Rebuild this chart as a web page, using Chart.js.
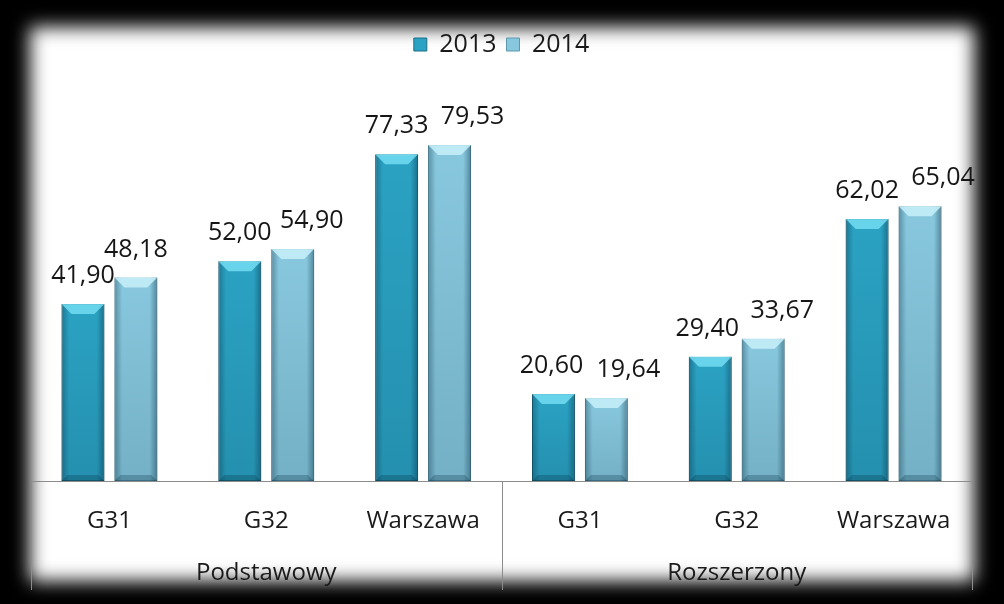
<!DOCTYPE html>
<html>
<head>
<meta charset="utf-8">
<script src="https://cdn.jsdelivr.net/npm/chart.js@4"></script>
<style>
    html, body { margin: 0; padding: 0; background: #000; }
    #wrap { position: relative; width: 1004px; height: 604px; overflow: hidden; background: #000; }
    #panel { position: absolute; left: 30px; top: 27px; width: 944px; height: 554px; background: #fff; filter: blur(9px); }
    canvas { position: absolute; left: 0; top: 0; }
</style>
</head>
<body>
<div id="wrap">
    <div id="panel"></div>
    <canvas id="chart" width="1004" height="604"></canvas>
</div>
<script>
// DATA
const categories = ['G31', 'G32', 'Warszawa', 'G31', 'G32', 'Warszawa'];
const groups = ['Podstawowy', 'Rozszerzony'];
const groupSize = 3;
const seriesNames = ['2013', '2014'];
const values2013 = [41.90, 52.00, 77.33, 20.60, 29.40, 62.02];
const values2014 = [48.18, 54.90, 79.53, 19.64, 33.67, 65.04];

// label nudges (px) so neighbouring value labels don't collide
const labelShift = [
    [0, 0, 0, -2, -3, 0],
    [0, 19, 23, 22, 19, 23]
];

const FONT = '"Open Sans", sans-serif';

// bar shading: dark sides + light top bevel
const bevelPlugin = {
    id: 'bevel',
    afterDatasetsDraw(chart) {
        const ctx = chart.ctx;
        chart.data.datasets.forEach((ds, i) => {
            chart.getDatasetMeta(i).data.forEach(bar => {
                const w = bar.width;
                const left = bar.x - w / 2, right = bar.x + w / 2;
                const top = bar.y, bottom = bar.base;
                const g = ctx.createLinearGradient(left, 0, right, 0);
                g.addColorStop(0, 'rgba(0,40,60,0.35)');
                g.addColorStop(0.18, 'rgba(0,40,60,0)');
                g.addColorStop(0.82, 'rgba(0,40,60,0)');
                g.addColorStop(1, 'rgba(0,40,60,0.4)');
                ctx.save();
                ctx.fillStyle = g;
                ctx.fillRect(left, top, w, bottom - top);
                const v = ctx.createLinearGradient(0, top, 0, bottom);
                v.addColorStop(0, 'rgba(0,40,60,0)');
                v.addColorStop(1, 'rgba(0,40,60,0.15)');
                ctx.fillStyle = v;
                ctx.fillRect(left, top, w, bottom - top);
                const b = 10;
                ctx.beginPath();
                ctx.moveTo(left, top);
                ctx.lineTo(right, top);
                ctx.lineTo(right - b, top + b);
                ctx.lineTo(left + b, top + b);
                ctx.closePath();
                ctx.fillStyle = i === 0 ? 'rgba(120,225,245,0.8)' : 'rgba(200,240,250,0.85)';
                ctx.fill();
                ctx.beginPath();
                ctx.moveTo(left, bottom);
                ctx.lineTo(right, bottom);
                ctx.lineTo(right - 6, bottom - 6);
                ctx.lineTo(left + 6, bottom - 6);
                ctx.closePath();
                ctx.fillStyle = 'rgba(0,40,60,0.25)';
                ctx.fill();
                ctx.restore();
            });
        });
    }
};

// value labels above bars
const valueLabels = {
    id: 'valueLabels',
    afterDatasetsDraw(chart) {
        const ctx = chart.ctx;
        ctx.save();
        ctx.font = '25px ' + FONT;
        ctx.fillStyle = '#161616';
        ctx.textAlign = 'center';
        ctx.textBaseline = 'middle';
        chart.data.datasets.forEach((ds, i) => {
            chart.getDatasetMeta(i).data.forEach((bar, j) => {
                const txt = ds.data[j].toFixed(2).replace('.', ',');
                ctx.fillText(txt, bar.x + labelShift[i][j], bar.y - 28);
            });
        });
        ctx.restore();
    }
};

// group labels + separators under the axis
const groupAxis = {
    id: 'groupAxis',
    afterDraw(chart) {
        const ctx = chart.ctx;
        const x = chart.scales.x;
        const bottom = chart.chartArea.bottom;
        const step = (x.right - x.left) / categories.length;
        ctx.save();
        ctx.strokeStyle = '#8c8c8c';
        ctx.lineWidth = 1;
        for (let g = 0; g <= groups.length; g++) {
            const px = Math.round(x.left + g * groupSize * step) + 0.5;
            ctx.beginPath();
            ctx.moveTo(px, bottom);
            ctx.lineTo(px, 590);
            ctx.stroke();
        }
        ctx.font = '24px ' + FONT;
        ctx.fillStyle = '#1a1a1a';
        ctx.textAlign = 'center';
        ctx.textBaseline = 'middle';
        groups.forEach((name, g) => {
            const cx = x.left + (g + 0.5) * groupSize * step;
            ctx.fillText(name, cx, 573);
        });
        ctx.restore();
    }
};

new Chart(document.getElementById('chart').getContext('2d'), {
    type: 'bar',
    data: {
        labels: categories,
        datasets: [
            {
                label: seriesNames[0],
                data: values2013,
                backgroundColor: '#2ba2c3',
                borderColor: '#1b6f86',
                borderWidth: 1,
                borderSkipped: false,
                barPercentage: 0.81,
                categoryPercentage: 0.675
            },
            {
                label: seriesNames[1],
                data: values2014,
                backgroundColor: '#88c8de',
                borderColor: '#5c98ad',
                borderWidth: 1,
                borderSkipped: false,
                barPercentage: 0.81,
                categoryPercentage: 0.675
            }
        ]
    },
    options: {
        responsive: false,
        animation: false,
        layout: { padding: { left: 31, right: 32, top: 22, bottom: 0 } },
        plugins: {
            legend: {
                position: 'top',
                labels: {
                    boxWidth: 13,
                    boxHeight: 13,
                    padding: 10,
                    color: '#1a1a1a',
                    font: { family: FONT, size: 25 }
                }
            },
            tooltip: { enabled: false }
        },
        scales: {
            x: {
                grid: { display: false },
                border: { display: true, color: '#8c8c8c' },
                ticks: {
                    color: '#1a1a1a',
                    padding: 18,
                    font: { family: FONT, size: 24 }
                },
                afterFit(scale) { scale.height = 123; }
            },
            y: {
                display: false,
                min: 0,
                max: 98
            }
        }
    },
    plugins: [bevelPlugin, valueLabels, groupAxis]
});
</script>
</body>
</html>
